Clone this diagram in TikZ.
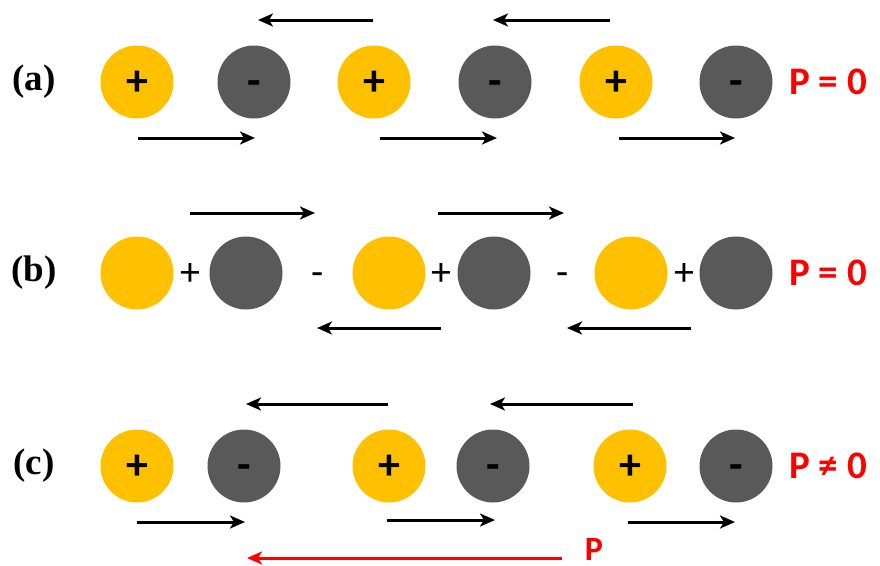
\documentclass[tikz,border=0pt]{standalone}
\usepackage{fontspec}
\setmainfont{Carlito}
\newfontfamily\serifb{Liberation Serif}
\usetikzlibrary{arrows.meta}
\definecolor{cation}{HTML}{FFC000}
\definecolor{anion}{HTML}{595959}
\definecolor{pred}{HTML}{FF0000}
\begin{document}
\begin{tikzpicture}[x=1pt,y=-1pt,
  ionbase/.style={circle,minimum size=73pt,inner sep=0pt,text height=27pt,text depth=0pt,
    font=\bfseries\fontsize{44}{44}\selectfont},
  posion/.style={ionbase,fill=cation},
  negion/.style={ionbase,fill=anion},
  lab/.style={font=\serifb\bfseries\fontsize{37}{37}\selectfont},
  pol/.style={text=pred,font=\bfseries\fontsize{39}{39}\selectfont,anchor=west,inner sep=0pt},
  arr/.style={line width=3pt,-{Stealth[length=15pt,width=13pt,inset=4pt]}},
  redarr/.style={arr,draw=pred},
  sgn/.style={font=\fontsize{40}{40}\selectfont,inner sep=0pt,text height=25pt,text depth=0pt}
]
\useasboundingbox (0,0) rectangle (880,565);

% ---------- row (a)
\node[lab] (la) at (34,82) {(a)};
\node[posion] (a1) at (137,82) {+};
\node[negion] (a2) at (254,82) {-};
\node[posion] (a3) at (374,82) {+};
\node[negion] (a4) at (495,82) {-};
\node[posion] (a5) at (616,82) {+};
\node[negion] (a6) at (736,82) {-};
\node[pol] (pa) at (789,82) {P = 0};
\coordinate (at1s) at (373,20); \coordinate (at1e) at (258,20);
\coordinate (at2s) at (610,20); \coordinate (at2e) at (493,20);
\coordinate (ab1s) at (138,138); \coordinate (ab1e) at (255,138);
\coordinate (ab2s) at (380,138); \coordinate (ab2e) at (497,138);
\coordinate (ab3s) at (619,138); \coordinate (ab3e) at (735,138);
\draw[arr] (at1s) -- (at1e);
\draw[arr] (at2s) -- (at2e);
\draw[arr] (ab1s) -- (ab1e);
\draw[arr] (ab2s) -- (ab2e);
\draw[arr] (ab3s) -- (ab3e);

% ---------- row (b)
\node[lab] (lb) at (34,273) {(b)};
\node[posion] (b1) at (137,273) {};
\node[negion] (b2) at (246,273) {};
\node[posion] (b3) at (389,273) {};
\node[negion] (b4) at (494,273) {};
\node[posion] (b5) at (631,273) {};
\node[negion] (b6) at (736,273) {};
\node[sgn] (bp1) at (190,273) {+};
\node[sgn] (bm1) at (318,273) {-};
\node[sgn] (bp2) at (441,273) {+};
\node[sgn] (bm2) at (563,273) {-};
\node[sgn] (bp3) at (684,273) {+};
\node[pol] (pb) at (789,273) {P = 0};
\coordinate (bt1s) at (190,213); \coordinate (bt1e) at (315,213);
\coordinate (bt2s) at (438,213); \coordinate (bt2e) at (564,213);
\coordinate (bb1s) at (441,328); \coordinate (bb1e) at (317,328);
\coordinate (bb2s) at (691,328); \coordinate (bb2e) at (567,328);
\draw[arr] (bt1s) -- (bt1e);
\draw[arr] (bt2s) -- (bt2e);
\draw[arr] (bb1s) -- (bb1e);
\draw[arr] (bb2s) -- (bb2e);

% ---------- row (c)
\node[lab] (lc) at (34,466) {(c)};
\node[posion] (c1) at (137,466) {+};
\node[negion] (c2) at (244,466) {-};
\node[posion] (c3) at (389,466) {+};
\node[negion] (c4) at (493,466) {-};
\node[posion] (c5) at (630,466) {+};
\node[negion] (c6) at (736,466) {-};
\node[pol] (pc) at (789,466) {P ≠ 0};
\coordinate (ct1s) at (388,404); \coordinate (ct1e) at (246,404);
\coordinate (ct2s) at (633,404); \coordinate (ct2e) at (490,404);
\coordinate (cb1s) at (137,522); \coordinate (cb1e) at (245,522);
\coordinate (cb2s) at (387,520); \coordinate (cb2e) at (495,520);
\coordinate (cb3s) at (628,522); \coordinate (cb3e) at (735,522);
\draw[arr] (ct1s) -- (ct1e);
\draw[arr] (ct2s) -- (ct2e);
\draw[arr] (cb1s) -- (cb1e);
\draw[arr] (cb2s) -- (cb2e);
\draw[arr] (cb3s) -- (cb3e);
\node[pol,anchor=center,text height=22pt,text depth=0pt,font=\bfseries\fontsize{34}{34}\selectfont] (pP) at (594,549) {P};
\coordinate (rs) at (562,558); \coordinate (re) at (247,558);
\draw[redarr] (rs) -- (re);
\end{tikzpicture}
\end{document}
